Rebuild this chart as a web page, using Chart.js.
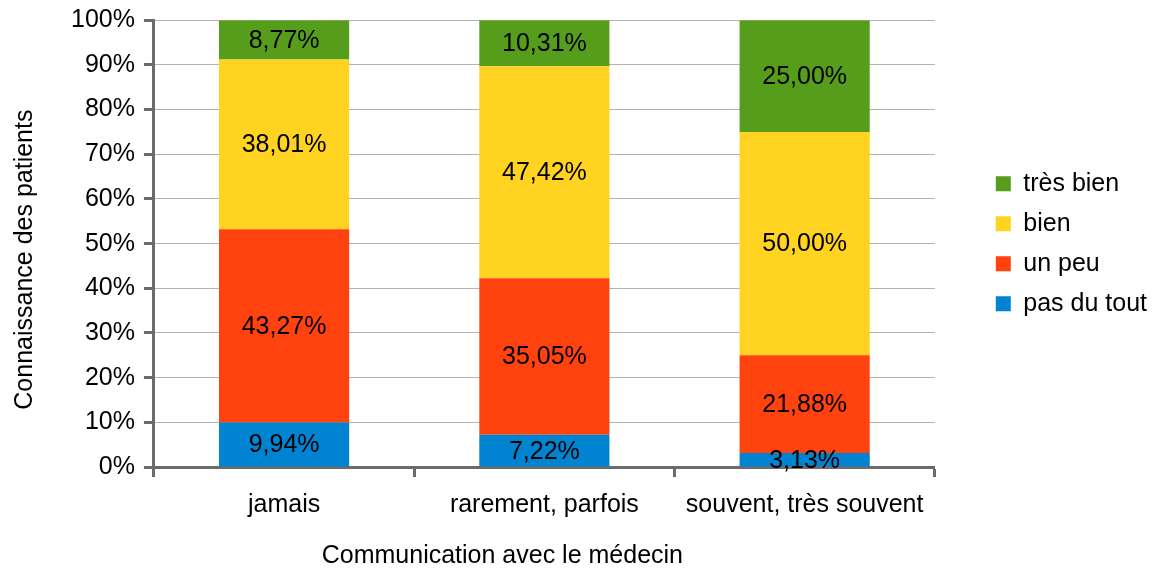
<!DOCTYPE html>
<html>
<head>
<meta charset="utf-8">
<script src="https://cdn.jsdelivr.net/npm/chart.js@4"></script>
<style>
  html, body { margin: 0; padding: 0; background: #fff; }
  #wrap { width: 1161px; height: 568px; }
</style>
</head>
<body>
<div id="wrap"><canvas id="chart" width="1161" height="568"></canvas></div>
<script>
const categories = ['jamais', 'rarement, parfois', 'souvent, très souvent'];
const pasDuTout = [9.94, 7.22, 3.13];
const unPeu = [43.27, 35.05, 21.88];
const bien = [38.01, 47.42, 50.00];
const tresBien = [8.77, 10.31, 25.00];
const yTicks = [0, 10, 20, 30, 40, 50, 60, 70, 80, 90, 100];

const FONT = "'Liberation Sans', Arial, sans-serif";
const AXIS = '#6b6b6b';
const GRID = '#b3b3b3';

const fmt = v => v.toFixed(2).replace('.', ',') + '%';

// labels in the middle of each segment
const segLabels = {
  id: 'segLabels',
  afterDatasetsDraw(chart) {
    const c = chart.ctx;
    c.save();
    c.font = '25px ' + FONT;
    c.fillStyle = '#000';
    c.textAlign = 'center';
    c.textBaseline = 'middle';
    chart.data.datasets.forEach((ds, i) => {
      chart.getDatasetMeta(i).data.forEach((bar, j) => {
        const y = (bar.y + bar.base) / 2;
        c.fillText(fmt(ds.data[j]), bar.x, y + 1);
      });
    });
    c.restore();
  }
};

// axis titles, both a little off the plot centre like the original
const axisTitles = {
  id: 'axisTitles',
  afterDraw(chart) {
    const c = chart.ctx;
    const a = chart.chartArea;
    c.save();
    c.font = '25px ' + FONT;
    c.fillStyle = '#000';
    c.textAlign = 'center';
    c.textBaseline = 'middle';
    c.fillText('Communication avec le médecin', (a.left + a.right) / 2 - 42, 556);
    c.translate(25, (a.top + a.bottom) / 2 + 16);
    c.rotate(-Math.PI / 2);
    c.fillText('Connaissance des patients', 0, 0);
    c.restore();
  }
};

new Chart(document.getElementById('chart'), {
  type: 'bar',
  data: {
    labels: categories,
    datasets: [
      { label: 'pas du tout', data: pasDuTout, backgroundColor: '#0084d1' },
      { label: 'un peu', data: unPeu, backgroundColor: '#ff420e' },
      { label: 'bien', data: bien, backgroundColor: '#ffd320' },
      { label: 'très bien', data: tresBien, backgroundColor: '#579d1c' }
    ]
  },
  options: {
    responsive: false,
    animation: false,
    layout: { padding: { top: 1, right: 4, bottom: 35, left: 62 } },
    datasets: { bar: { categoryPercentage: 1, barPercentage: 0.5, borderWidth: 0 } },
    plugins: {
      tooltip: { enabled: false },
      legend: {
        position: 'right',
        fullSize: false,
        reverse: true,
        labels: {
          font: { family: FONT, size: 25 },
          color: '#000',
          boxWidth: 15,
          boxHeight: 15,
          padding: 15
        }
      }
    },
    scales: {
      x: {
        stacked: true,
        grid: {
          offset: true,
          drawOnChartArea: true,
          color: ctx => ctx.index === categories.length ? GRID : 'rgba(0,0,0,0)',
          tickColor: AXIS,
          tickWidth: 3,
          tickLength: 10
        },
        border: { color: AXIS, width: 3 },
        ticks: { font: { family: FONT, size: 25 }, color: '#000', padding: 13 }
      },
      y: {
        stacked: true,
        min: 0,
        max: 100,
        afterBuildTicks: s => { s.ticks = yTicks.map(v => ({ value: v })); },
        grid: { color: GRID, lineWidth: 1, tickColor: AXIS, tickWidth: 3, tickLength: 10 },
        border: { color: AXIS, width: 3 },
        ticks: {
          font: { family: FONT, size: 25, lineHeight: 0.9 },
          color: '#000',
          padding: 9,
          callback: v => v + '%'
        }
      },
      // empty spacer between the plot and the legend
      gap: {
        position: 'right',
        display: true,
        grid: { display: false },
        border: { display: false },
        ticks: { display: false },
        afterFit: s => { s.width = 46; }
      }
    }
  },
  plugins: [segLabels, axisTitles]
});
</script>
</body>
</html>
